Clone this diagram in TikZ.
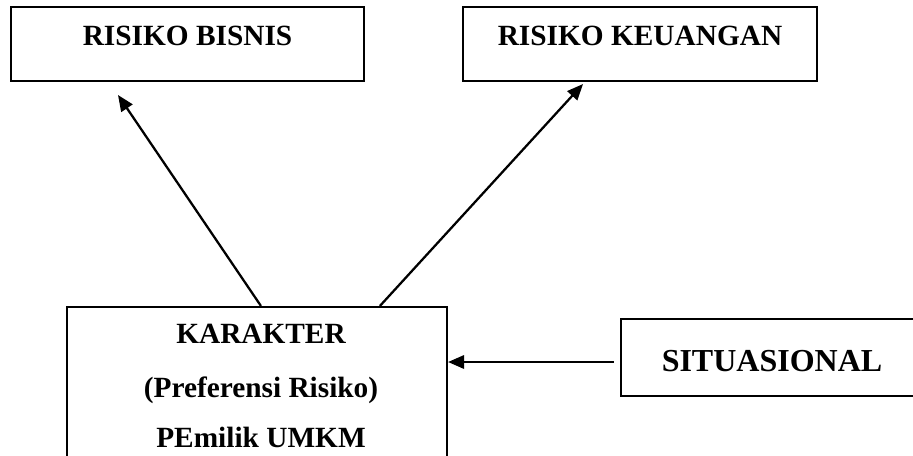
\documentclass[tikz,border=0pt]{standalone}
\usepackage{fontspec}
\setmainfont{Liberation Serif}
\usetikzlibrary{arrows.meta}
\begin{document}
\begin{tikzpicture}[x=0.75pt,y=-0.75pt,
  box/.style={draw, line width=1.6pt, inner sep=0pt, rectangle},
  lbl/.style={font=\bfseries\fontsize{22}{26}\selectfont, anchor=base, inner sep=0pt},
  biglbl/.style={font=\bfseries\fontsize{24}{28}\selectfont, anchor=base, inner sep=0pt},
  arr/.style={line width=1.7pt, -{Triangle[length=12pt,width=10pt]}}]
\clip (0,0) rectangle (913,455);
\fill[white] (0,0) rectangle (913,455);
% boxes
\node[box, minimum width=264.75pt, minimum height=55.5pt] (rb) at (187.5,44) {};
\node[box, minimum width=265.5pt, minimum height=55.5pt] (rk) at (640,44) {};
\node[box, minimum width=285pt, minimum height=122.25pt] (kar) at (257,388.5) {};
\node[box, minimum width=231.75pt, minimum height=57.75pt] (sit) at (775.5,357.5) {};
% labels
\node[lbl] (trb) at (187.5,45) {RISIKO BISNIS};
\node[lbl] (trk) at (640,45) {RISIKO KEUANGAN};
\node[lbl] (tk1) at (261,343) {KARAKTER};
\node[lbl] (tk2) at (261,397) {(Preferensi Risiko)};
\node[lbl] (tk3) at (261,447) {PEmilik UMKM};
\node[biglbl] (ts) at (772,371) {SITUASIONAL};
% connectors
\coordinate (t1) at (118,95);
\coordinate (t2) at (583,84);
\draw[arr] ([xshift=146.25pt]kar.north west) -- (t1);
\draw[arr] ([xshift=235.5pt]kar.north west) -- (t2);
\draw[arr] ([xshift=-4.5pt,yshift=-3.375pt]sit.west) -- ([yshift=-3.375pt]kar.east |- sit.west);
\end{tikzpicture}
\end{document}
